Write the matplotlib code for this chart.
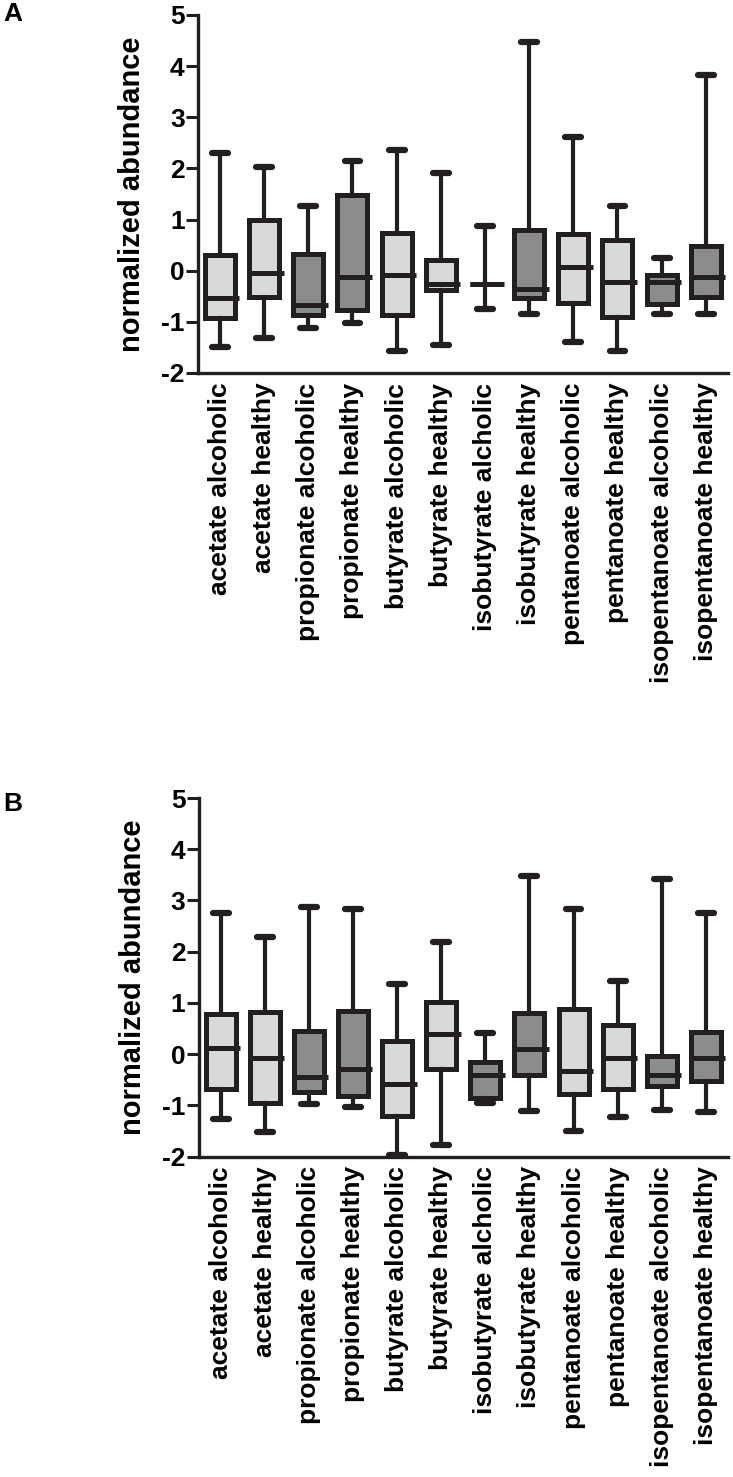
import matplotlib
matplotlib.use("Agg")
import matplotlib.pyplot as plt

plt.rcParams['font.family'] = ['Liberation Sans', 'DejaVu Sans']

categories = ['acetate alcoholic', 'acetate healthy', 'propionate alcoholic',
              'propionate healthy', 'butyrate alcoholic', 'butyrate healthy',
              'isobutyrate alcholic', 'isobutyrate healthy', 'pentanoate alcoholic',
              'pentanoate healthy', 'isopentanoate alcoholic', 'isopentanoate healthy']

# panel A: whisker low, Q1, median, Q3, whisker high
a_low = [-1.49, -1.32, -1.12, -1.02, -1.57, -1.45, -0.75, -0.85, -1.39, -1.57, -0.85, -0.85]
a_q1 = [-0.93, -0.51, -0.87, -0.76, -0.87, -0.38, -0.26, -0.54, -0.64, -0.90, -0.65, -0.51]
a_med = [-0.53, -0.05, -0.67, -0.12, -0.08, -0.27, -0.26, -0.35, 0.07, -0.23, -0.23, -0.12]
a_q3 = [0.31, 1.00, 0.33, 1.47, 0.73, 0.21, -0.26, 0.80, 0.72, 0.59, -0.08, 0.48]
a_high = [2.30, 2.02, 1.27, 2.15, 2.36, 1.91, 0.88, 4.48, 2.61, 1.27, 0.24, 3.83]
a_fill = ['light', 'light', 'dark', 'dark', 'light', 'light', 'none',
          'dark', 'light', 'light', 'dark', 'dark']

# panel B
b_low = [-1.27, -1.51, -0.98, -1.04, -1.96, -1.78, -0.95, -1.11, -1.49, -1.23, -1.09, -1.13]
b_q1 = [-0.67, -0.96, -0.73, -0.82, -1.21, -0.29, -0.85, -0.41, -0.78, -0.68, -0.62, -0.52]
b_med = [0.13, -0.08, -0.44, -0.29, -0.59, 0.39, -0.41, 0.10, -0.33, -0.08, -0.40, -0.08]
b_q3 = [0.78, 0.83, 0.46, 0.85, 0.25, 1.02, -0.16, 0.80, 0.88, 0.57, -0.03, 0.44]
b_high = [2.75, 2.28, 2.88, 2.84, 1.37, 2.19, 0.42, 3.48, 2.84, 1.43, 3.41, 2.76]
b_fill = ['light', 'light', 'dark', 'dark', 'light', 'light', 'dark',
          'dark', 'light', 'light', 'dark', 'dark']

fill_colors = {'light': '#d8d9db', 'dark': '#8b8c8e', 'none': 'none'}
edge = '#231f20'


def draw_panel(ax, low, q1, med, q3, high, fills):
    stats = []
    for i in range(len(categories)):
        stats.append({'whislo': low[i], 'q1': q1[i], 'med': med[i],
                      'q3': q3[i], 'whishi': high[i], 'fliers': []})
    bp = ax.bxp(stats, positions=range(len(categories)), widths=0.68,
                capwidths=0.36, patch_artist=True, showfliers=False,
                boxprops=dict(linewidth=3.6, edgecolor=edge),
                whiskerprops=dict(linewidth=3.0, color=edge),
                capprops=dict(linewidth=4.5, color=edge, solid_capstyle='round'),
                medianprops=dict(linewidth=3.6, color=edge))
    for patch, f in zip(bp['boxes'], fills):
        patch.set_facecolor(fill_colors[f])
    for art in bp['caps'] + bp['whiskers']:
        art.set_clip_on(False)
    # median bar pokes out a little on the right side, as in the original
    for line in bp['medians']:
        xd = list(line.get_xdata())
        line.set_xdata([xd[0], xd[1] + 0.1])

    ax.set_xlim(-0.5, len(categories) - 0.5)
    ax.set_ylim(-2, 5)
    ax.set_yticks(range(-2, 6))
    ax.set_yticklabels([str(v) for v in range(-2, 6)], fontsize=19, fontweight='bold')
    ax.set_xticks(range(len(categories)))
    ax.set_xticklabels(categories, rotation=90, fontsize=19, fontweight='bold',
                       va='top', ha='center')
    ax.tick_params(axis='x', length=0, pad=7)
    ax.tick_params(axis='y', length=8.5, width=2.2, pad=1, color=edge)
    for s in ['top', 'right']:
        ax.spines[s].set_visible(False)
    for s in ['left', 'bottom']:
        ax.spines[s].set_linewidth(2.4)
        ax.spines[s].set_color(edge)
    ax.set_ylabel('normalized abundance', fontsize=21, fontweight='bold', labelpad=11)


fig = plt.figure(figsize=(7.33, 14.77), dpi=100)
ax_a = fig.add_axes([0.270, 0.7475, 0.723, 0.2424])
ax_b = fig.add_axes([0.271, 0.2169, 0.722, 0.2428])

draw_panel(ax_a, a_low, a_q1, a_med, a_q3, a_high, a_fill)
draw_panel(ax_b, b_low, b_q1, b_med, b_q3, b_high, b_fill)

fig.text(0.004, 0.9905, 'A', fontsize=19, fontweight='bold', va='center', ha='left')
fig.text(0.004, 0.4555, 'B', fontsize=19, fontweight='bold', va='center', ha='left')

fig.savefig('out.png', dpi=100, facecolor='white')
